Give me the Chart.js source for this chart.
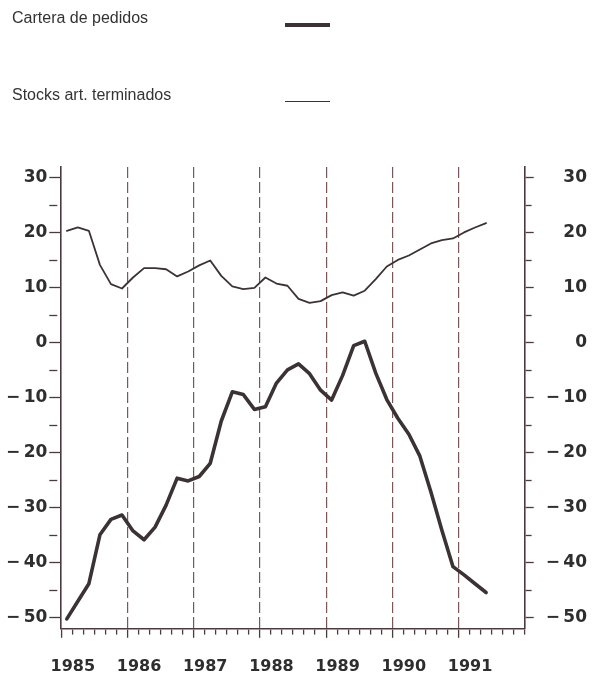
<!DOCTYPE html>
<html>
<head>
<meta charset="utf-8">
<script src="https://cdn.jsdelivr.net/npm/chart.js@4"></script>
<style>
  body { margin: 0; background: #fff; }
  #wrap { position: relative; width: 595px; height: 676px; }
  #leyenda { position: absolute; left: 0; top: 0; width: 595px; height: 120px;
             font: 16px "Liberation Sans", Arial, sans-serif; color: #333; }
  .texto { position: absolute; left: 12px; line-height: 16px; white-space: nowrap; }
  .muestra { position: absolute; left: 285px; width: 45px; }
</style>
</head>
<body>
<div id="wrap">
  <canvas id="grafico"></canvas>
  <div id="leyenda"></div>
</div>
<script>
// años y bimestres (cada punto es un bimestre)
const anos = ['1985', '1986', '1987', '1988', '1989', '1990', '1991'];
const bimestres = ['ene-feb', 'mar-abr', 'may-jun', 'jul-ago', 'sep-oct', 'nov-dic'];
const marcasY = [-50, -45, -40, -35, -30, -25, -20, -15, -10, -5, 0, 5, 10, 15, 20, 25, 30];

const series = ['Cartera de pedidos', 'Stocks art. terminados'];

const cartera = [-50.2, -47.0, -43.8, -34.9, -32.1, -31.3,
                 -34.2, -35.8, -33.5, -29.5, -24.6, -25.1,
                 -24.3, -21.9, -14.2, -8.9, -9.4, -12.1,
                 -11.6, -7.3, -4.9, -3.8, -5.6, -8.6,
                 -10.4, -5.9, -0.5, 0.3, -5.5, -10.3,
                 -13.7, -16.6, -20.6, -27.1, -34.1, -40.7,
                 -42.2, -43.8, -45.4];

const stocks = [20.4, 21.0, 20.4, 14.2, 10.7, 9.9,
                11.9, 13.6, 13.6, 13.4, 12.1, 13.0,
                14.1, 15.0, 12.2, 10.3, 9.8, 10.0,
                11.9, 10.8, 10.4, 8.0, 7.3, 7.6,
                8.7, 9.2, 8.6, 9.5, 11.6, 13.9,
                15.1, 15.9, 17.0, 18.1, 18.7, 19.0,
                20.1, 21.0, 21.8];

const categorias = anos.flatMap(a => bimestres.map(b => b + ' ' + a));

const tinta = '#3b3234';
const ejes = '#4b3b3e';
const trazos = '#7a575b';
const fuenteX = { family: 'DejaVu Sans', weight: 'bold', size: 16 };
const fuenteY = { family: 'DejaVu Sans', weight: 'bold', size: 17 };

function etiquetaY(v) {
  if (v % 10 !== 0) return '';
  return v < 0 ? '\u2212\u2009' + (-v) : String(v);
}

function marcas(eje) {
  eje.ticks = marcasY.map(v => ({ value: v }));
}

const datasets = [
  { label: series[0], data: cartera, borderColor: tinta, borderWidth: 3.6 },
  { label: series[1], data: stocks, borderColor: tinta, borderWidth: 1.8 }
];

new Chart(document.getElementById('grafico'), {
  type: 'line',
  data: { labels: categorias, datasets: datasets },
  options: {
    responsive: true,
    maintainAspectRatio: false,
    animation: false,
    elements: { point: { radius: 0 }, line: { tension: 0, borderJoinStyle: 'round', borderCapStyle: 'round' } },
    layout: { padding: { top: 167, left: 4, right: 8, bottom: -19 } },
    plugins: { legend: { display: false }, tooltip: { enabled: false } },
    scales: {
      x: {
        offset: true,
        grid: {
          offset: true,
          color: c => (c.index % 6 === 0 && c.index > 0 && c.index < 42) ? trazos : 'transparent',
          lineWidth: 1.2,
          tickColor: ejes,
          tickWidth: 1.3,
          tickLength: 9,
          tickBorderDash: c => c.index % 6 === 0 ? [] : [5, 40]
        },
        border: { color: ejes, width: 1.6, dash: [11, 4] },
        ticks: {
          autoSkip: false, maxRotation: 0, minRotation: 0,
          padding: 19, labelOffset: 6, color: '#2e2e2e', font: fuenteX,
          callback: (v, i) => i % 6 === 0 ? anos[i / 6] : ''
        }
      },
      y: {
        position: 'left', min: -52, max: 32,
        afterBuildTicks: marcas,
        grid: {
          drawOnChartArea: false, tickColor: ejes, tickWidth: 1.3, tickLength: 12,
          tickBorderDash: c => (c.tick && c.tick.value % 10 !== 0) ? [8, 40] : []
        },
        border: { color: ejes, width: 1.6 },
        ticks: { padding: 2, color: '#2e2e2e', font: fuenteY, callback: etiquetaY }
      },
      y2: {
        position: 'right', min: -52, max: 32,
        afterBuildTicks: marcas,
        grid: {
          drawOnChartArea: false, tickColor: ejes, tickWidth: 1.3, tickLength: 9,
          tickBorderDash: c => (c.tick && c.tick.value % 10 !== 0) ? [6, 40] : []
        },
        border: { color: ejes, width: 1.6 },
        ticks: { padding: 6, crossAlign: 'far', color: '#2e2e2e', font: fuenteY, callback: etiquetaY }
      }
    }
  }
});

// leyenda: texto a la izquierda, muestra de línea a la derecha
const leyenda = document.getElementById('leyenda');
const filas = [10, 86.5];
datasets.forEach((ds, i) => {
  const t = document.createElement('div');
  t.className = 'texto';
  t.style.top = filas[i] + 'px';
  t.textContent = ds.label;
  leyenda.appendChild(t);
  const m = document.createElement('div');
  m.className = 'muestra';
  m.style.top = (filas[i] + 15 - ds.borderWidth / 2) + 'px';
  m.style.height = ds.borderWidth + 'px';
  m.style.background = ds.borderColor;
  leyenda.appendChild(m);
});
</script>
</body>
</html>
